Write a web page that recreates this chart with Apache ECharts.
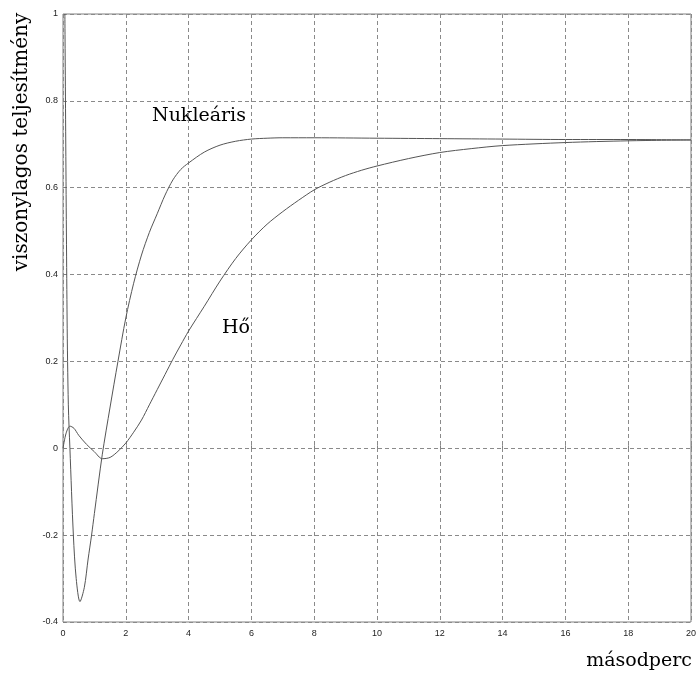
<!DOCTYPE html>
<html>
<head>
<meta charset="utf-8">
<script src="https://cdn.jsdelivr.net/npm/echarts@6/dist/echarts.min.js"></script>
<style>
  html, body { margin: 0; padding: 0; background: #fff; }
  #chart { width: 699px; height: 673px; }
</style>
</head>
<body>
<div id="chart"></div>
<script>
// x: másodperc, y: viszonylagos teljesítmény
const nuclearData = [
  [0.06, 1.0], [0.13, 0.3], [0.17, 0.1], [0.22, 0], [0.33, -0.2], [0.42, -0.3],
  [0.54, -0.353], [0.68, -0.32], [0.8, -0.255], [0.91, -0.2], [1.0, -0.15],
  [1.25, -0.015], [1.5, 0.095], [1.75, 0.2], [2.0, 0.3], [2.25, 0.38],
  [2.5, 0.445], [2.75, 0.497], [3.0, 0.54], [3.25, 0.583], [3.5, 0.618],
  [3.75, 0.642], [4.0, 0.657], [4.5, 0.682], [5.0, 0.698], [5.5, 0.707],
  [6.0, 0.712], [6.5, 0.714], [7.0, 0.715], [8, 0.715], [10, 0.714],
  [12, 0.713], [14, 0.712], [16, 0.711], [18, 0.711], [20, 0.71]
]
const heatData = [
  [0, 0], [0.1, 0.035], [0.22, 0.051], [0.35, 0.046], [0.5, 0.03], [0.75, 0.009],
  [1.0, -0.008], [1.25, -0.024], [1.5, -0.021], [1.75, -0.007], [2.0, 0.012],
  [2.25, 0.037], [2.5, 0.065], [2.75, 0.1], [3.0, 0.135], [3.25, 0.17],
  [3.5, 0.205], [3.75, 0.238], [4.0, 0.27], [4.5, 0.327], [5.0, 0.385],
  [5.5, 0.437], [6.0, 0.48], [6.5, 0.516], [7.0, 0.545], [7.5, 0.571],
  [8.0, 0.595], [8.5, 0.613], [9.0, 0.628], [9.5, 0.64], [10, 0.65],
  [11, 0.667], [12, 0.681], [13, 0.69], [14, 0.697], [16, 0.704],
  [18, 0.708], [20, 0.71]
]
const xTicks = [0, 2, 4, 6, 8, 10, 12, 14, 16, 18, 20]
const yTicks = [-0.4, -0.2, 0, 0.2, 0.4, 0.6, 0.8, 1]

const chart = echarts.init(document.getElementById('chart'))

const serif = 'DejaVu Serif'
const sans = 'Liberation Sans'

chart.setOption({
  animation: false,
  backgroundColor: '#fff',
  grid: {
    left: 63, right: 7, top: 14, bottom: 51,
    show: true, borderColor: '#808080', borderWidth: 1
  },
  xAxis: {
    type: 'value',
    min: xTicks[0], max: xTicks[xTicks.length - 1], interval: 2,
    axisLine: { show: false },
    axisTick: { show: true, inside: true, length: 3, lineStyle: { color: '#808080' } },
    axisLabel: { color: '#222', fontFamily: sans, fontSize: 9, margin: 7 },
    splitLine: { show: true, lineStyle: { color: '#8a8a8a', type: [4, 3], width: 1 } }
  },
  yAxis: {
    type: 'value',
    min: yTicks[0], max: yTicks[yTicks.length - 1], interval: 0.2,
    axisLine: { show: false },
    axisTick: { show: true, inside: true, length: 3, lineStyle: { color: '#808080' } },
    axisLabel: {
      color: '#222', fontFamily: sans, fontSize: 9, margin: 5,
      formatter: (v) => String(Math.round(v * 10) / 10)
    },
    splitLine: { show: true, lineStyle: { color: '#8a8a8a', type: [4, 3], width: 1 } }
  },
  series: [
    {
      name: 'Nukleáris',
      type: 'line',
      data: nuclearData,
      smooth: 0.3,
      showSymbol: false,
      lineStyle: { color: '#555', width: 1 }
    },
    {
      name: 'Hő',
      type: 'line',
      data: heatData,
      smooth: 0.3,
      showSymbol: false,
      lineStyle: { color: '#555', width: 1 }
    }
  ],
  graphic: [
    {
      type: 'text', x: 22, y: 142, rotation: Math.PI / 2,
      style: {
        text: 'viszonylagos teljesítmény', font: '20px "' + serif + '"',
        fill: '#000', textAlign: 'center', textVerticalAlign: 'middle'
      }
    },
    {
      type: 'text', x: 152, y: 116,
      style: {
        text: 'Nukleáris', font: '19px "' + serif + '"',
        fill: '#000', textAlign: 'left', textVerticalAlign: 'middle'
      }
    },
    {
      type: 'text', x: 222, y: 328,
      style: {
        text: 'Hő', font: '19px "' + serif + '"',
        fill: '#000', textAlign: 'left', textVerticalAlign: 'middle'
      }
    },
    {
      type: 'text', x: 692, y: 661,
      style: {
        text: 'másodperc', font: '19px "' + serif + '"',
        fill: '#000', textAlign: 'right', textVerticalAlign: 'middle'
      }
    }
  ]
})
</script>
</body>
</html>
